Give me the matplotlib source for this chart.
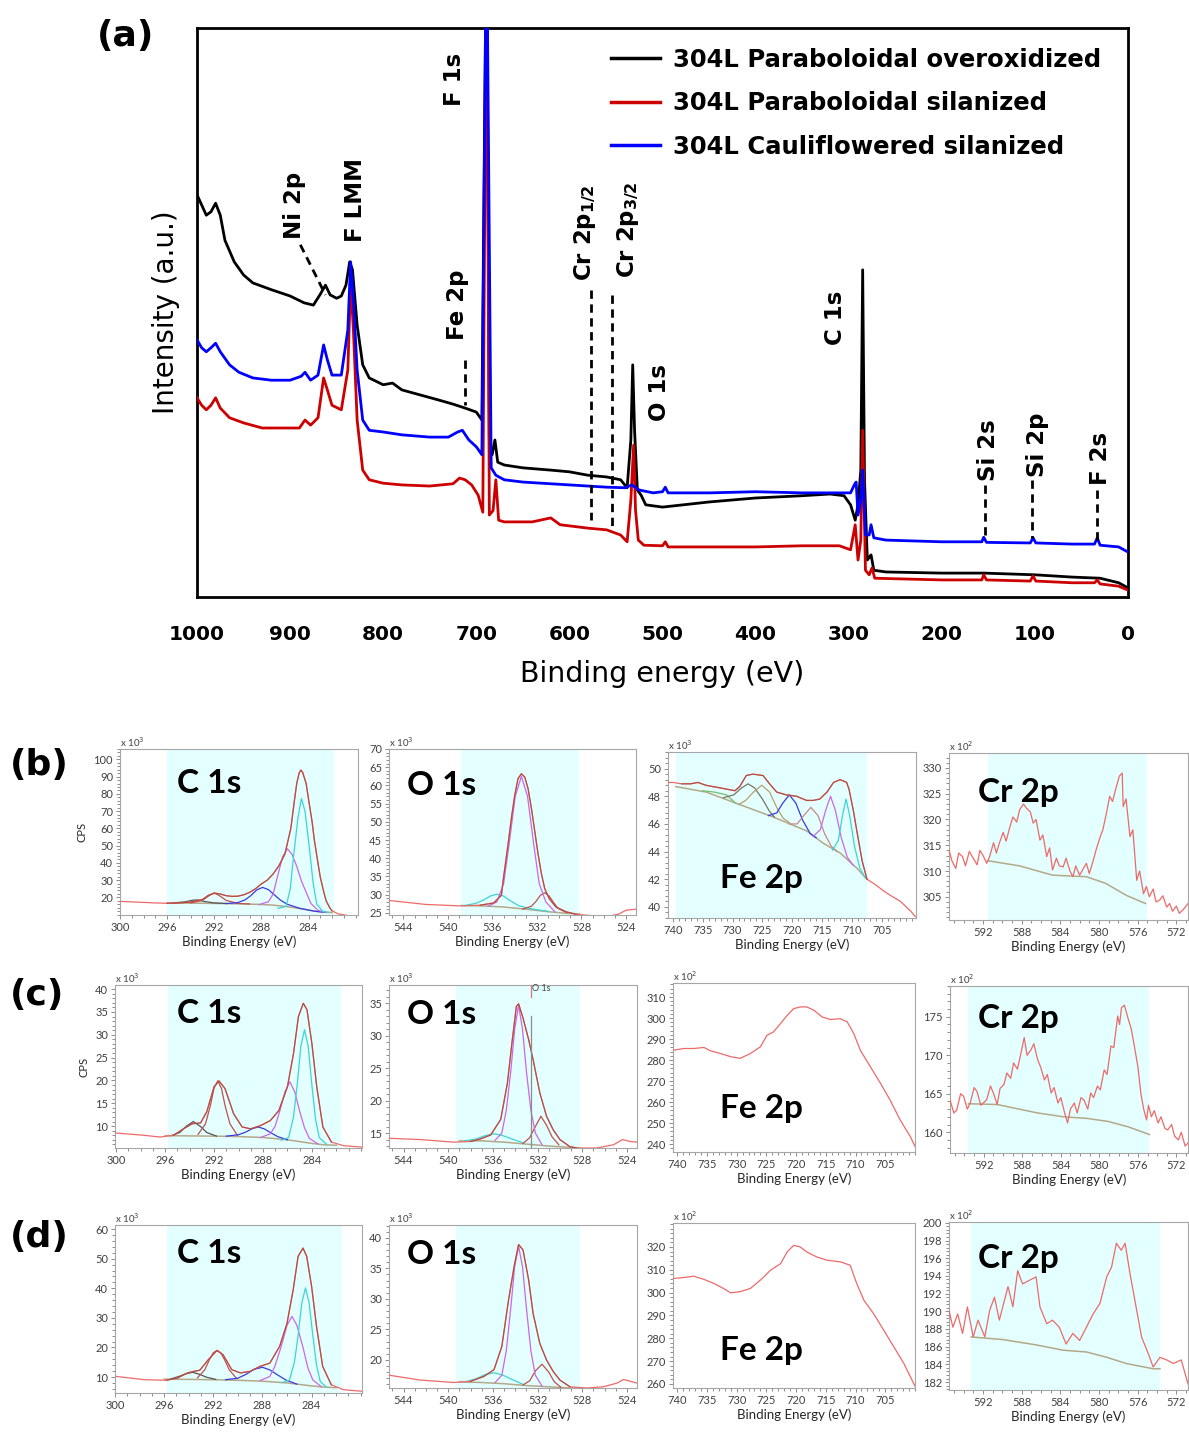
import matplotlib
matplotlib.use("Agg")
import matplotlib.pyplot as plt
from matplotlib.lines import Line2D
from matplotlib.ticker import AutoMinorLocator, MultipleLocator

W, H = 1189, 1434

# ---------------- (a) survey spectra: binding energy (eV), intensity (a.u.) ----------------
black_E = [1000, 995, 990, 985, 980, 975, 970, 960, 950, 940, 920, 900, 885, 875, 868, 862, 857, 850,
           845, 840, 836, 833, 828, 822, 815, 800, 790, 780, 760, 740, 725, 712, 700, 694, 689, 686,
           683, 680, 677, 670, 650, 620, 600, 580, 560, 545, 538, 534, 532, 530, 527, 523, 518, 500,
           450, 400, 350, 320, 305, 298, 293, 290, 287, 285, 283, 280, 276, 273, 260, 200, 155, 100,
           60, 30, 10, 0]
black_I = [70.7, 68.9, 67.1, 67.7, 69.2, 67.1, 62.7, 58.9, 56.6, 55.2, 54.0, 52.9, 51.7, 51.3, 53.1,
           54.8, 53.1, 52.5, 52.9, 54.8, 58.9, 57.5, 47.8, 40.8, 38.5, 37.3, 37.6, 36.4, 35.5, 34.6,
           33.9, 33.2, 32.5, 31.1, 120, 27.6, 25.0, 27.6, 23.7, 23.2, 22.7, 22.3, 22.0, 21.4, 21.1,
           20.6, 19.2, 27.6, 40.8, 29.3, 18.8, 17.9, 16.2, 15.8, 16.7, 17.4, 17.8, 18.1, 17.8, 16.2,
           13.5, 16.2, 22.3, 57.5, 20.6, 6.5, 7.4, 4.7, 4.4, 4.2, 4.2, 3.9, 3.5, 3.3, 2.5, 1.6]

blue_E = [1000, 995, 990, 985, 980, 975, 965, 955, 940, 920, 900, 888, 884, 878, 870, 864, 860, 855,
          845, 838, 835, 832, 828, 822, 815, 800, 780, 750, 730, 720, 715, 708, 700, 694, 689, 684,
          679, 670, 650, 600, 560, 540, 533, 525, 510, 500, 497, 494, 450, 400, 350, 310, 298, 294,
          292, 290, 287, 285, 282, 278, 276, 273, 260, 200, 157, 155, 152, 105, 102, 99, 60, 36, 33,
          30, 10, 0]
blue_I = [45.2, 43.8, 43.1, 43.8, 44.6, 43.1, 40.8, 39.5, 38.5, 38.1, 38.1, 38.8, 39.5, 38.1, 39.0,
          44.3, 41.7, 39.0, 39.0, 46.9, 58.9, 52.2, 39.9, 31.1, 29.3, 29.0, 28.5, 28.1, 28.1, 29.0,
          29.3, 27.6, 26.4, 25.0, 120, 22.7, 21.4, 20.6, 20.2, 19.7, 19.3, 19.2, 19.7, 18.8, 18.3,
          18.5, 19.3, 18.3, 18.3, 18.5, 18.3, 18.3, 18.3, 19.7, 20.2, 14.4, 17.0, 22.3, 10.9, 10.9,
          12.7, 10.4, 10.0, 9.7, 9.7, 10.5, 9.6, 9.5, 10.4, 9.5, 9.3, 9.3, 10.4, 9.1, 8.8, 7.9]

red_E = [1000, 995, 990, 985, 980, 975, 965, 950, 930, 910, 890, 884, 878, 870, 864, 860, 855, 845,
         838, 835, 832, 828, 822, 815, 800, 780, 750, 725, 718, 712, 705, 698, 693, 689, 686, 682,
         679, 676, 670, 640, 620, 610, 580, 560, 545, 538, 534, 531, 529, 526, 520, 500, 497, 494,
         450, 400, 350, 310, 298, 293, 290, 287, 285, 282, 278, 275, 272, 200, 157, 155, 152, 105,
         102, 99, 60, 36, 33, 30, 10, 0]
red_I = [35.0, 33.7, 32.9, 33.7, 35.0, 33.2, 31.5, 30.6, 29.7, 29.7, 29.7, 31.1, 30.2, 31.5, 38.5,
         36.4, 33.7, 32.9, 39.9, 55.4, 46.9, 31.1, 22.3, 20.6, 20.0, 19.7, 19.5, 19.9, 20.9, 20.6,
         19.7, 17.9, 14.9, 120, 14.4, 15.2, 20.6, 13.5, 13.2, 13.2, 13.9, 12.7, 12.1, 11.8, 10.9,
         9.7, 17.0, 26.7, 15.3, 10.0, 9.1, 9.0, 9.7, 8.8, 8.8, 8.8, 9.0, 9.0, 8.3, 12.7, 6.5, 10.0,
         29.3, 4.7, 3.9, 5.1, 3.3, 3.0, 3.0, 3.9, 3.0, 2.8, 3.7, 2.8, 2.5, 2.5, 3.0, 2.3, 1.9, 1.2]

legend_labels = ["304L Paraboloidal overoxidized", "304L Paraboloidal silanized",
                 "304L Cauliflowered silanized"]
survey_ticks = [1000, 900, 800, 700, 600, 500, 400, 300, 200, 100, 0]

# peak labels: text, energy, intensity of label centre
peak_labels = [("Ni 2p", 895, 68.9), ("F LMM", 830, 69.8), ("F 1s", 723, 90.9), ("Fe 2p", 720, 51.3),
               (r"Cr 2p$_{\mathbf{1/2}}$", 583, 64.1), (r"Cr 2p$_{\mathbf{3/2}}$", 537, 64.5),
               ("O 1s", 503, 36.0), ("C 1s", 314, 49.0), ("Si 2s", 150, 25.8), ("Si 2p", 97, 26.7),
               ("F 2s", 30, 24.4)]
# dashed marker lines: (E1, I1, E2, I2)
peak_markers = [(889, 61.9, 862, 53.1), (712, 41.7, 712, 33.7), (577, 54.0, 577, 13.5),
                (554, 53.0, 554, 11.8), (154, 19.7, 154, 10.0), (103, 20.6, 103, 10.4),
                (33, 18.8, 33, 10.0)]

# ---------------- (b) paraboloidal overoxidized: high resolution ----------------
b_c1s = [(300, 17.7), (299, 17.4), (298, 17.1), (297, 16.8), (296, 16.6), (295, 16.8), (294, 17.3),
         (293, 18.8), (292.5, 21.2), (292, 22.5), (291.5, 22.0), (291, 21.0), (290.5, 20.6),
         (290, 20.7), (289.5, 21.5), (289, 22.9), (288.5, 25.0), (288, 27.8), (287.5, 30.0),
         (287, 33.6), (286.5, 38.5), (286, 45.2), (285.5, 60), (285.2, 76), (285, 86), (284.8, 92),
         (284.65, 93.8), (284.5, 92.5), (284.2, 86), (284, 77), (283.7, 64), (283.5, 53),
         (283.2, 40), (283, 31.7), (282.7, 23), (282.5, 18), (282.2, 14), (282, 12.2),
         (281.5, 10.5), (281, 9.9), (280.5, 9.2), (280, 8.7)]
b_c1s_bg = [(296, 16.8), (294, 16.7), (292, 16.5), (290, 16.3), (288, 15.9), (287, 15.5), (286, 14.8),
            (285, 13.8), (284, 12.6), (283, 11.6), (282, 11.2)]
b_c1s_cyan = [(286.6, 13.6), (285.9, 14.8), (285.55, 25), (285.25, 45), (284.9, 66), (284.6, 77.3),
              (284.3, 70), (283.95, 50), (283.6, 28), (283.3, 16), (282.8, 12), (282.3, 11.3)]
b_c1s_magenta = [(288.2, 15.8), (287.4, 17.5), (287.0, 22), (286.6, 33), (286.2, 43.5), (285.8, 48.2),
                 (285.4, 45), (285.0, 38), (284.6, 29.5), (284.2, 23), (283.8, 16.5), (283.2, 12.5),
                 (282.5, 11.3)]
b_c1s_blue = [(291, 16.4), (290, 17.0), (289.4, 18.5), (288.9, 21), (288.4, 24.3), (287.9, 25.8),
              (287.4, 24.5), (286.9, 21.5), (286.4, 18.5), (285.8, 16), (284.8, 13.8), (283.5, 12),
              (282.5, 11.3)]
b_c1s_red = [(294, 16.8), (293, 18.3), (292.4, 21.2), (292, 22.5), (291.6, 21.2), (291, 18.3),
             (290, 16.5), (289, 16.2)]
b_c1s_dark = [(295.5, 16.8), (294.5, 17.4), (293.8, 18.4), (293.4, 18.5), (292.8, 17.6), (292, 16.8),
              (291, 16.5)]

b_o1s = [(545.3, 28.4), (542.0, 27.3), (538.9, 26.9), (537.1, 27.1), (535.9, 27.7), (535.2, 29.8),
         (535.0, 34.8), (534.6, 43.8), (534.3, 51.0), (534.0, 57.3), (533.7, 61.9), (533.4, 63.2),
         (533.1, 62.3), (532.8, 59.1), (532.5, 53.7), (532.2, 47.4), (531.9, 41.1), (531.6, 35.7),
         (531.3, 31.6), (530.9, 28.9), (530.3, 26.6), (529.4, 25.3), (528.5, 24.6), (526.7, 24.1),
         (525.5, 24.1), (524.7, 24.6), (524.0, 25.7), (523.1, 26.0)]
b_o1s_bg = [(538.8, 27.0), (537, 26.9), (535, 26.6), (533, 26.0), (531, 25.3), (529.5, 24.9), (528.2, 24.7)]
b_o1s_magenta = [(536.4, 26.8), (535.6, 28), (535.0, 33), (534.5, 44), (533.95, 57), (533.4, 62.5),
                 (532.85, 57), (532.3, 44), (531.8, 33), (531.2, 28), (530.4, 25.3)]
b_o1s_cyan = [(538.5, 27), (537.5, 27.6), (536.8, 28.5), (536.2, 29.6), (535.6, 30.1), (535.0, 29.6),
              (534.4, 28.3), (533.6, 26.9), (532.5, 26.1), (531, 25.4)]
b_o1s_red = [(533.3, 26), (532.5, 26.8), (532.1, 28.1), (531.7, 29.8), (531.3, 30.5), (530.9, 29.6),
             (530.5, 27.8), (530.1, 26.2), (529.3, 25)]

b_fe2p = [(740.8, 49.0), (740, 49.0), (738.5, 48.9), (737, 48.9), (735.8, 49.0), (734.5, 48.8),
          (733.3, 48.7), (732, 48.6), (730.8, 48.5), (729.6, 48.4), (728.8, 48.7), (727.7, 49.5),
          (726.6, 49.6), (724.9, 49.5), (723.8, 48.9), (722.6, 48.3), (721, 48.1), (719.3, 48.0),
          (717.6, 47.7), (716.5, 47.7), (715.4, 47.8), (714.2, 48.3), (713.1, 49.0), (712, 49.2),
          (710.9, 49.0), (710.5, 48.5), (709.8, 47.0), (709, 45.0), (708.3, 43.3), (707.5, 42.0),
          (706.4, 41.7), (704.2, 41.0), (701.9, 40.4), (700.2, 39.7), (699.4, 39.3)]
b_fe2p_bg = [(739.5, 48.7), (734.4, 48.3), (728.8, 47.4), (723.2, 46.5), (717.6, 45.5), (714.8, 44.6),
             (712, 43.9), (709.2, 42.8), (707.5, 42.0)]
b_fe2p_green = [(735, 48.4), (733, 48.3), (731, 48.1), (729.5, 47.5)]
b_fe2p_olive = [(731.5, 47.9), (729.8, 48.1), (728.5, 48.6), (727.4, 48.9), (726.3, 48.6), (725, 47.8),
                (723.8, 46.9), (723, 46.5)]
b_fe2p_tan = [(729, 47.4), (727.8, 47.7), (726.5, 48.3), (725.1, 48.8), (723.8, 48.3), (722.5, 47.1),
              (721.5, 46.4), (720.5, 46.1)]
b_fe2p_blue = [(724, 46.6), (722.6, 46.8), (721.6, 47.5), (720.5, 48.1), (719.4, 47.5), (718.3, 46.3),
               (717, 45.3), (716, 45.0)]
b_fe2p_rose = [(720.5, 46.0), (719.2, 46.0), (718.1, 46.6), (716.9, 47.2), (715.7, 46.6), (714.6, 45.3),
               (713.5, 44.4), (712.5, 44.0)]
b_fe2p_magenta = [(716.5, 45.1), (715.3, 45.6), (714.4, 47.0), (713.6, 48.0), (712.8, 47.0),
                  (711.8, 45.0), (710.8, 43.6), (709.8, 43.0)]
b_fe2p_cyan = [(713.3, 44.1), (712.3, 44.8), (711.6, 46.6), (711.0, 47.8), (710.4, 46.6), (709.6, 44.4),
               (708.7, 42.8), (707.8, 42.1)]

b_cr2p = [(595.5, 314.1), (595.2, 312.0), (594.8, 310.5), (594.5, 313.5), (594.1, 312.8), (593.8, 311.0),
          (593.4, 313.8), (593.0, 312.5), (592.6, 311.2), (592.3, 314.0), (592.0, 313.1), (591.6, 311.5),
          (591.3, 312.8), (590.9, 315.5), (590.6, 313.5), (590.3, 315.4), (589.9, 317.5), (589.6, 315.8),
          (589.2, 318.6), (588.9, 320.5), (588.5, 319.5), (588.2, 321.9), (587.8, 323.0), (587.5, 322.2),
          (587.1, 321.5), (586.8, 319.3), (586.5, 320.0), (586.1, 316.0), (585.8, 317.0), (585.4, 312.8),
          (585.1, 314.5), (584.8, 310.2), (584.4, 312.5), (584.1, 311.0), (583.7, 310.8), (583.4, 312.5),
          (583.0, 310.0), (582.7, 308.9), (582.4, 311.0), (582.0, 309.2), (581.7, 310.2), (581.3, 311.5),
          (581.0, 309.5), (580.6, 312.0), (580.3, 314.1), (579.9, 316.5), (579.6, 318.0), (579.2, 321.5),
          (578.9, 324.5), (578.6, 323.5), (578.2, 326.4), (577.9, 328.4), (577.6, 329.0), (577.5, 322.5),
          (577.2, 324.0), (576.8, 316.7), (576.5, 318.0), (576.1, 308.2), (575.8, 310.0), (575.4, 305.6),
          (575.1, 307.0), (574.8, 305.0), (574.4, 306.5), (574.1, 304.0), (573.7, 304.4), (573.4, 305.2),
          (573.0, 303.0), (572.7, 303.7), (572.4, 302.2), (572.0, 303.2), (571.7, 301.8), (571.3, 302.5),
          (570.8, 303.7)]
b_cr2p_bg = [(591.5, 312.0), (588.2, 311.0), (584.8, 309.2), (581.3, 308.9), (579.3, 307.6),
             (577.2, 305.3), (575.2, 303.7)]

# ---------------- (c) paraboloidal silanized ----------------
c_c1s = [(300.1, 8.5), (297.8, 8.0), (296.4, 7.6), (295.3, 8.0), (294.5, 9.4), (293.8, 10.5),
         (293.1, 10.7), (292.6, 13.1), (292.0, 18.6), (291.6, 19.9), (291.1, 18.2), (290.4, 12.7),
         (289.7, 9.8), (289.0, 9.4), (288.2, 10.1), (287.4, 11.2), (286.7, 13.4), (286.0, 18.6),
         (285.5, 25.9), (285.1, 34.0), (284.7, 36.9), (284.4, 35.5), (284.0, 28.1), (283.6, 18.6),
         (283.1, 9.8), (282.4, 6.5), (281.4, 5.7), (279.9, 5.4)]
c_c1s_bg = [(296, 7.9), (292, 7.8), (290, 7.7), (288, 7.5), (286, 7.0), (285, 6.6), (284, 6.2),
            (283, 5.9), (282, 5.8)]
c_c1s_cyan = [(286.5, 6.9), (285.9, 7.5), (285.5, 12), (285.2, 19), (284.9, 27.5), (284.6, 31.1),
              (284.3, 27.5), (284.0, 19), (283.7, 11.5), (283.4, 7.5), (282.8, 6.0)]
c_c1s_magenta = [(288.2, 7.5), (287.4, 8.3), (287.0, 10), (286.6, 13.5), (286.2, 17.5), (285.8, 19.7),
                 (285.4, 17.5), (285.0, 13.3), (284.6, 9.6), (284.2, 7.3), (283.5, 6.1)]
c_c1s_blue = [(291, 7.8), (290, 8.1), (289.4, 8.7), (288.9, 9.4), (288.4, 9.8), (287.9, 9.4),
              (287.4, 8.6), (286.8, 7.7), (286, 7.0)]
c_c1s_red = [(293.3, 8.2), (292.7, 10.5), (292.3, 14.5), (292.0, 18.3), (291.7, 19.9), (291.4, 18.3),
             (291.1, 14.5), (290.7, 10.5), (290.1, 8.0)]
c_c1s_dark = [(295.5, 7.9), (294.8, 8.6), (294.3, 9.9), (293.7, 11.0), (293.1, 9.9), (292.6, 8.6),
              (291.8, 7.8)]

c_o1s = [(545.3, 14.2), (542.5, 14.0), (539.5, 13.6), (538.0, 13.7), (537.1, 14.1), (536.2, 14.7),
         (535.3, 17.1), (534.7, 22.7), (534.3, 28.8), (533.9, 34.5), (533.7, 34.9), (533.3, 32.7),
         (532.8, 29.4), (532.4, 26.3), (531.8, 21.2), (531.2, 17.6), (530.6, 15.5), (530.0, 14.0),
         (529.1, 12.9), (528.5, 12.7), (526.7, 12.7), (525.2, 13.2), (524.4, 14.0), (523.7, 13.7),
         (523.1, 13.6)]
c_o1s_bg = [(539, 13.8), (537, 13.8), (535, 13.6), (533, 13.3), (531, 13.0), (529, 12.8), (528.2, 12.7)]
c_o1s_magenta = [(535.8, 13.9), (535.2, 15), (534.8, 18.5), (534.4, 24.5), (534.05, 31), (533.7, 34.7),
                 (533.35, 31), (533.0, 24.5), (532.6, 18.5), (532.2, 15), (531.6, 13.2)]
c_o1s_cyan = [(538.5, 13.8), (537.5, 14.1), (536.7, 14.6), (535.9, 14.9), (535.1, 14.6), (534.3, 14.1),
              (533.3, 13.5)]
c_o1s_red = [(533.3, 13.4), (532.7, 14.3), (532.2, 16.0), (531.7, 17.6), (531.2, 16.2), (530.7, 14.4),
             (530.1, 13.2)]
c_o1s_marker = (532.6, 33.1)

c_fe2p = [(740.6, 284.7), (738.9, 285.5), (737.2, 285.5), (735.5, 286.0), (734.4, 284.4), (732.7, 283.1),
          (731.0, 281.6), (729.4, 280.8), (727.7, 283.1), (726.0, 286.3), (724.9, 291.8), (723.8, 293.4),
          (722.6, 297.4), (721.5, 301.3), (720.4, 304.5), (719.3, 305.3), (718.2, 305.3), (717.0, 303.7),
          (715.6, 300.5), (714.2, 299.3), (712.6, 299.7), (711.4, 298.2), (710.3, 292.6), (709.2, 284.7),
          (707.5, 276.8), (705.8, 268.9), (704.2, 261.0), (702.5, 251.5), (700.8, 243.6), (700.0, 238.9)]

c_cr2p = [(595.5, 164.2), (595.1, 162.5), (594.8, 162.9), (594.4, 165.0), (594.1, 164.7), (593.7, 163.0),
          (593.4, 163.8), (593.0, 165.8), (592.7, 165.3), (592.3, 163.5), (591.7, 164.2), (591.3, 166.0),
          (591.0, 165.1), (590.6, 163.6), (590.3, 165.7), (589.9, 166.2), (589.6, 167.7), (589.2, 167.0),
          (588.9, 169.0), (588.5, 168.2), (588.2, 169.9), (587.8, 172.3), (587.5, 170.0), (587.1, 170.7),
          (586.8, 171.5), (586.4, 169.4), (586.1, 168.5), (585.7, 166.8), (585.4, 167.5), (585.0, 165.1),
          (584.7, 165.8), (584.3, 163.8), (584.0, 164.5), (583.6, 162.5), (583.3, 161.2), (583.0, 163.0),
          (582.6, 163.8), (582.3, 162.5), (581.9, 164.5), (581.6, 164.2), (581.2, 163.0), (580.9, 165.1),
          (580.6, 164.5), (580.2, 166.0), (579.9, 165.5), (579.5, 168.1), (579.2, 167.5), (578.8, 171.2),
          (578.5, 171.0), (578.1, 175.1), (577.9, 174.0), (577.7, 176.2), (577.4, 176.5), (577.0, 174.7),
          (576.7, 173.5), (576.3, 170.7), (576.0, 168.5), (575.7, 165.1), (575.4, 163.0), (575.1, 161.6),
          (574.9, 163.5), (574.6, 162.0), (574.3, 162.8), (573.9, 161.2), (573.6, 162.0), (573.2, 160.5),
          (572.9, 160.3), (572.5, 161.0), (572.2, 159.5), (571.8, 159.0), (571.5, 160.0), (571.1, 158.2),
          (570.8, 158.6)]
c_cr2p_bg = [(593.6, 163.7), (590.6, 163.6), (586.4, 162.5), (583.7, 162.0), (581.3, 161.8),
             (579.1, 161.4), (577.0, 160.7), (574.8, 159.7)]

# ---------------- (d) cauliflowered silanized ----------------
d_c1s = [(299.9, 10.2), (297.6, 9.1), (295.8, 8.9), (294.9, 9.7), (294.1, 11.4), (293.6, 11.9),
         (293.1, 12.3), (292.4, 15.9), (291.7, 19.0), (291.2, 17.5), (290.5, 12.5), (289.8, 11.4),
         (289.0, 11.9), (288.2, 13.6), (287.4, 14.7), (286.6, 20.4), (286.0, 28.2), (285.5, 39.5),
         (285.1, 50.8), (284.7, 53.6), (284.4, 50.8), (284.0, 40.6), (283.6, 27.1), (283.1, 13.6),
         (282.4, 7.4), (281.4, 5.7), (279.9, 5.2)]
d_c1s_bg = [(296, 9.3), (292, 9.1), (290, 8.9), (288, 8.6), (286, 8.0), (285, 7.5), (284, 7.0),
            (283, 6.6), (282, 6.4)]
d_c1s_cyan = [(286.4, 8.1), (285.8, 9), (285.4, 15), (285.1, 24), (284.8, 35), (284.5, 40.1),
              (284.2, 35), (283.9, 24), (283.6, 14), (283.3, 8.5), (282.8, 6.6)]
d_c1s_magenta = [(288.2, 8.8), (287.4, 10.2), (287.0, 13.5), (286.5, 20), (286.0, 27.5), (285.6, 30.5),
                 (285.2, 27.5), (284.7, 20), (284.3, 13), (283.9, 9), (283.2, 6.7)]
d_c1s_blue = [(291, 9.1), (290, 9.6), (289.3, 11), (288.7, 12.6), (288.0, 13.3), (287.4, 12.4),
              (286.8, 10.8), (286.1, 9), (285.2, 7.6)]
d_c1s_red = [(293.3, 9.7), (292.7, 12.4), (292.3, 16), (292.0, 18.2), (291.7, 19), (291.4, 18.2),
             (291.1, 16), (290.7, 12.4), (290.1, 9.5)]
d_c1s_dark = [(295.5, 9.3), (294.8, 10.2), (294.3, 11.0), (293.7, 11.6), (293.1, 10.9), (292.6, 10),
              (291.8, 9.2)]

d_o1s = [(545.3, 17.5), (542.5, 16.7), (539.5, 16.3), (538.0, 16.5), (536.8, 17.3), (535.9, 18.4),
         (535.2, 22.2), (534.6, 29.8), (534.1, 35.3), (533.7, 38.9), (533.3, 38.0), (532.8, 33.1),
         (532.4, 27.6), (531.8, 22.7), (531.2, 20.0), (530.6, 18.1), (530.0, 16.7), (529.1, 15.6),
         (527.6, 15.4), (526.1, 15.6), (524.9, 16.2), (524.3, 16.8), (523.7, 16.5), (523.1, 16.2)]
d_o1s_bg = [(539, 16.4), (537, 16.3), (535, 16.1), (533, 15.8), (531, 15.6), (529, 15.4), (528.2, 15.3)]
d_o1s_magenta = [(535.8, 16.3), (535.2, 17.5), (534.8, 21.5), (534.4, 28.5), (534.05, 35.3), (533.7, 38.6),
                 (533.35, 35.3), (533.0, 28.5), (532.6, 21.5), (532.2, 17.5), (531.6, 15.7)]
d_o1s_cyan = [(538.5, 16.4), (537.5, 16.9), (536.7, 17.6), (535.9, 17.9), (535.1, 17.5), (534.3, 16.8),
              (533.3, 16.0)]
d_o1s_red = [(533.3, 15.9), (532.7, 16.6), (532.2, 18.2), (531.6, 19.3), (531.0, 18.0), (530.5, 16.4),
             (529.9, 15.5)]

d_fe2p = [(740.6, 306.2), (738.9, 306.6), (737.2, 307.2), (735.5, 305.8), (733.8, 304.0), (732.2, 301.8),
          (731.0, 299.9), (729.4, 300.4), (727.7, 301.8), (726.0, 305.5), (724.3, 309.8), (722.6, 312.7),
          (721.5, 317.8), (720.4, 320.7), (719.3, 320.0), (718.2, 317.8), (716.5, 315.6), (714.8, 314.2),
          (712.6, 313.5), (710.9, 312.0), (709.8, 304.0), (708.6, 296.7), (707.0, 290.9), (705.3, 283.7),
          (703.6, 276.4), (701.9, 269.1), (700.0, 259.0)]

d_cr2p = [(595.5, 190.1), (595.1, 188.2), (594.6, 189.7), (594.1, 187.5), (593.6, 190.5), (593.0, 187.1),
          (592.5, 189.0), (591.8, 187.1), (591.3, 190.1), (590.8, 191.6), (590.3, 189.0), (589.4, 192.8),
          (588.9, 190.5), (588.4, 194.6), (587.9, 193.1), (587.2, 193.5), (586.5, 193.9), (586.1, 190.5),
          (585.4, 188.6), (584.8, 189.0), (584.1, 188.2), (583.4, 186.3), (582.7, 187.5), (582.0, 186.7),
          (581.3, 188.2), (580.6, 189.7), (579.9, 190.9), (579.2, 193.9), (578.7, 195.0), (578.2, 197.7),
          (577.7, 196.9), (577.3, 197.7), (576.8, 194.3), (576.1, 190.1), (575.6, 187.1), (574.9, 185.2),
          (574.4, 183.7), (573.7, 184.8), (573.0, 184.5), (572.3, 184.1), (571.5, 184.5), (570.8, 181.8)]
d_cr2p_bg = [(593.2, 187.1), (589.9, 186.8), (586.5, 186.2), (583.7, 185.6), (581.3, 185.4),
             (579.2, 184.8), (577.2, 184.1), (574.4, 183.5), (573.7, 183.5)]

COMP_COLORS = {"cyan": "#3fd3d3", "magenta": "#cc66e6", "blue": "#3a3ae0", "red": "#c0504d",
               "dark": "#555555", "green": "#70c070", "olive": "#777760", "tan": "#b8a070",
               "rose": "#c98888"}
RAW = "#ec6a6a"
ENV = "#a9443a"
BG = "#b5a888"
SHADE = "#e3ffff"
TICK_GRAY = "#404040"


def px_rect(left, top, right, bottom):
    return [left / W, 1 - bottom / H, (right - left) / W, (bottom - top) / H]


def xy(points):
    return [p[0] for p in points], [p[1] for p in points]


def small_panel(fig, rect, xlim, ylim, xticks, yticks, spectrum, shade=None, bg=None, comps=(),
                envelope=True, exp=3, ylabel=False):
    ax = fig.add_axes(px_rect(*rect))
    ax.set_xlim(*xlim)
    ax.set_ylim(*ylim)
    if shade is not None:
        ax.axvspan(shade[0], shade[1], color=SHADE, zorder=0, lw=0)
    E, I = xy(spectrum)
    ax.plot(E, I, color=RAW, lw=0.9, zorder=3)
    if bg is not None:
        bx, by = xy(bg)
        ax.plot(bx, by, color=BG, lw=1.1, zorder=2)
    for pts, c in comps:
        cx, cy = xy(pts)
        ax.plot(cx, cy, color=COMP_COLORS[c], lw=0.9, zorder=2)
    if envelope and shade is not None:
        lo, hi = min(shade), max(shade)
        env = [p for p in spectrum if lo <= p[0] <= hi]
        ex, ey = xy(env)
        ax.plot(ex, ey, color=ENV, lw=0.9, alpha=0.8, zorder=4)
    ax.set_xticks(xticks)
    ax.set_yticks(yticks)
    ax.xaxis.set_minor_locator(MultipleLocator(1))
    ax.yaxis.set_minor_locator(AutoMinorLocator(5))
    ax.tick_params(which="both", direction="out", colors="#8c8c8c", labelcolor=TICK_GRAY,
                   labelsize=8, width=0.7)
    ax.tick_params(which="major", length=3, pad=2)
    ax.tick_params(which="minor", length=2)
    for lab in ax.get_xticklabels() + ax.get_yticklabels():
        lab.set_family("Lato")
    for s in ax.spines.values():
        s.set_color("#a6a6a6")
        s.set_linewidth(0.8)
    ax.set_xlabel("Binding Energy (eV)", fontsize=9.5, family="Lato", color="#262626", labelpad=2)
    if ylabel:
        ax.set_ylabel("CPS", fontsize=8, family="Lato", color="#262626", labelpad=4)
    ax.text(0.0, 1.0, "x 10$^{%d}$" % exp, transform=ax.transAxes, fontsize=7, family="Lato",
            color=TICK_GRAY, ha="left", va="bottom")
    return ax


def panel_title(fig, text, x, y):
    fig.text(x / W, 1 - y / H, text, fontsize=24, family="Lato", fontweight="bold",
             ha="left", va="baseline", color="black")


fig = plt.figure(figsize=(W / 100, H / 100), dpi=100)
plt.rcParams["font.family"] = ["DejaVu Sans"]

# ---------------- panel (a) ----------------
ax = fig.add_axes(px_rect(197, 28, 1128, 597))
ax.plot(black_E, black_I, color="black", lw=2.0, zorder=3)
ax.plot(red_E, red_I, color="#cc0000", lw=2.0, zorder=4)
ax.plot(blue_E, blue_I, color="#0000ff", lw=2.0, zorder=5)
ax.set_xlim(1000, 0)
ax.set_ylim(0, 100)
ax.set_yticks([])
ax.set_xticks(survey_ticks)
ax.set_xticklabels([str(t) for t in survey_ticks], fontsize=14.5, fontweight="bold")
ax.tick_params(axis="x", length=0, pad=20)
for s in ax.spines.values():
    s.set_linewidth(2.0)
ax.set_xlabel("Binding energy (eV)", fontsize=20.5, labelpad=12)
ax.set_ylabel("Intensity (a.u.)", fontsize=20, labelpad=12)

for text, e, i in peak_labels:
    ax.text(e, i, text, rotation=90, ha="center", va="center", fontsize=16.5, fontweight="bold")
for e1, i1, e2, i2 in peak_markers:
    ax.plot([e1, e2], [i1, i2], color="black", lw=2.0, ls=(0, (3, 2)), zorder=6)

handles = [Line2D([], [], color=c, lw=2.5) for c in ("black", "#cc0000", "#0000ff")]
leg = ax.legend(handles, legend_labels, loc="upper left", bbox_to_anchor=(611 / W, 1 - 48 / H),
                bbox_transform=fig.transFigure, frameon=False, handlelength=2.0, handletextpad=0.55,
                labelspacing=0.8, borderaxespad=0, borderpad=0,
                prop={"size": 17.5, "weight": "bold"})

fig.text(97 / W, 1 - 36 / H, "(a)", fontsize=26, fontweight="bold", ha="left", va="center")

# ---------------- rows (b), (c), (d) ----------------
c1s_x = [300, 296, 292, 288, 284]
o1s_x = [544, 540, 536, 532, 528, 524]
fe_x = [740, 735, 730, 725, 720, 715, 710, 705]
cr_x = [592, 588, 584, 580, 576, 572]

small_panel(fig, (120, 749, 358, 915), (300, 279.8), (9.8, 106), c1s_x, list(range(20, 101, 10)),
            b_c1s, shade=(296, 281.8), bg=b_c1s_bg,
            comps=[(b_c1s_dark, "dark"), (b_c1s_red, "red"), (b_c1s_blue, "blue"),
                   (b_c1s_magenta, "magenta"), (b_c1s_cyan, "cyan")], ylabel=True)
small_panel(fig, (389, 749, 636, 915), (545.3, 523.1), (24.4, 70), o1s_x, list(range(25, 71, 5)),
            b_o1s, shade=(538.8, 528.2), bg=b_o1s_bg,
            comps=[(b_o1s_cyan, "cyan"), (b_o1s_red, "red"), (b_o1s_magenta, "magenta")])
small_panel(fig, (668, 752, 916, 918), (740.8, 699.3), (39.2, 51.2), fe_x, list(range(40, 51, 2)),
            b_fe2p, shade=(739.5, 707.5), bg=b_fe2p_bg,
            comps=[(b_fe2p_green, "green"), (b_fe2p_olive, "olive"), (b_fe2p_tan, "tan"),
                   (b_fe2p_blue, "blue"), (b_fe2p_rose, "rose"), (b_fe2p_magenta, "magenta"),
                   (b_fe2p_cyan, "cyan")])
small_panel(fig, (949, 753, 1188, 920), (595.5, 570.8), (300.5, 332.9), cr_x, list(range(305, 331, 5)),
            b_cr2p, shade=(591.5, 575.0), bg=b_cr2p_bg, envelope=False, exp=2)

small_panel(fig, (115, 985, 362, 1148), (300.1, 279.9), (5.2, 40.9), c1s_x, list(range(10, 41, 5)),
            c_c1s, shade=(295.8, 281.6), bg=c_c1s_bg,
            comps=[(c_c1s_dark, "dark"), (c_c1s_red, "red"), (c_c1s_blue, "blue"),
                   (c_c1s_magenta, "magenta"), (c_c1s_cyan, "cyan")], ylabel=True)
ax_co = small_panel(fig, (389, 985, 637, 1148), (545.3, 523.1), (12.7, 37.8), o1s_x,
                    list(range(15, 36, 5)), c_o1s, shade=(539.3, 528.2), bg=c_o1s_bg,
                    comps=[(c_o1s_cyan, "cyan"), (c_o1s_red, "red"), (c_o1s_magenta, "magenta")])
ax_co.plot([c_o1s_marker[0]] * 2, [12.7, c_o1s_marker[1]], color="#8c8c8c", lw=0.9, zorder=5)
ax_co.plot([c_o1s_marker[0]] * 2, [37.8, 36.0], color="#e07070", lw=0.9, zorder=5)
ax_co.text(c_o1s_marker[0] - 0.1, 37.2, "O 1s", fontsize=6.5, family="Lato", color=TICK_GRAY,
           ha="left", va="center")
small_panel(fig, (673, 983, 915, 1152), (740.7, 700.0), (236.2, 316.7), fe_x,
            list(range(240, 311, 10)), c_fe2p, exp=2)
small_panel(fig, (950, 986, 1188, 1153), (595.5, 570.8), (157.3, 179.0), cr_x,
            list(range(160, 176, 5)), c_cr2p, shade=(593.6, 574.8), bg=c_cr2p_bg, envelope=False, exp=2)

small_panel(fig, (115, 1225, 362, 1393), (299.9, 279.9), (4.6, 61.4), c1s_x, list(range(10, 61, 10)),
            d_c1s, shade=(295.8, 281.5), bg=d_c1s_bg,
            comps=[(d_c1s_dark, "dark"), (d_c1s_red, "red"), (d_c1s_blue, "blue"),
                   (d_c1s_magenta, "magenta"), (d_c1s_cyan, "cyan")])
small_panel(fig, (389, 1225, 637, 1388), (545.3, 523.1), (15.4, 42.1), o1s_x, list(range(20, 41, 5)),
            d_o1s, shade=(539.3, 528.2), bg=d_o1s_bg,
            comps=[(d_o1s_cyan, "cyan"), (d_o1s_red, "red"), (d_o1s_magenta, "magenta")])
small_panel(fig, (673, 1223, 915, 1388), (740.7, 700.0), (258.2, 330.5), fe_x,
            list(range(260, 321, 10)), d_fe2p, exp=2)
small_panel(fig, (949, 1222, 1188, 1390), (595.5, 570.8), (181.1, 200.1), cr_x,
            list(range(182, 201, 2)), d_cr2p, shade=(593.2, 573.7), bg=d_cr2p_bg, envelope=False, exp=2)

# big element labels inside the small panels
for row_y in ((793, 795, 888, 802), (1023, 1024, 1118, 1028), (1263, 1264, 1360, 1268)):
    panel_title(fig, "C 1s", 177, row_y[0])
    panel_title(fig, "O 1s", 407, row_y[1])
    panel_title(fig, "Fe 2p", 720, row_y[2])
    panel_title(fig, "Cr 2p", 978, row_y[3])

for lab, y in (("(b)", 765), ("(c)", 995), ("(d)", 1237)):
    fig.text(10 / W, 1 - y / H, lab, fontsize=26, fontweight="bold", ha="left", va="center")

fig.savefig("out.png", dpi=100)
